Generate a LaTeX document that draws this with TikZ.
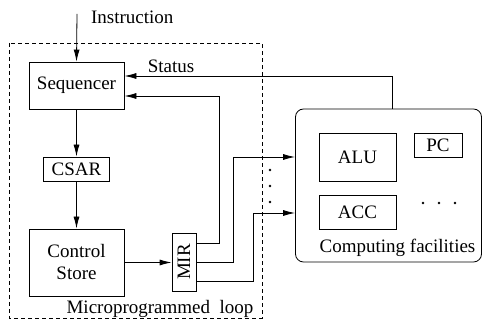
\documentclass[tikz,border=0pt]{standalone}
\usepackage{fontspec}
\setmainfont{Liberation Serif}
\usetikzlibrary{arrows.meta}

\begin{document}
\begin{tikzpicture}[x=0.5pt, y=-0.5pt,
  font=\fontsize{9.5}{11}\selectfont,
  box/.style={draw, inner sep=0pt, align=center},
  arr/.style={-{Latex[length=6pt,width=3pt]}}]
\useasboundingbox (0,0) rectangle (483,320);

% microprogrammed loop
\draw[dashed, dash pattern=on 2pt off 1.5pt] (9,43) rectangle (262,318);
\node (loop) at (160,309) {Microprogrammed\ \ loop};

\node[box, minimum width=47.5pt, minimum height=23.5pt] (seq) at (76.5,85.5) {Sequencer};
\node[box, minimum width=33pt, minimum height=12pt] (csar) at (76.5,169) {CSAR};
\node[box, minimum width=47.5pt, minimum height=33.5pt] (cs) at (76.5,262.5) {Control\\Store};
\node[box, minimum width=12pt, minimum height=29pt] (mir) at (184,262) {\rotatebox{90}{MIR}};

% computing facilities
\node[box, rounded corners=4pt, minimum width=93pt, minimum height=76.5pt] (comp) at (388.5,185.5) {};
\node[box, minimum width=38.5pt, minimum height=24pt] (alu) at (357.5,157) {ALU};
\node[box, minimum width=24pt, minimum height=12pt] (pc) at (438,145) {PC};
\node[box, minimum width=38.5pt, minimum height=17pt] (acc) at (357.5,212) {ACC};
\node (fac) at (397.5,248) {Computing facilities};
\foreach \x in {423,439,455} \fill (\x,203) circle (0.7pt);
\foreach \y in {170,186,202} \fill (270,\y) circle (0.7pt);

\coordinate (in) at (77,14);
\node[right] (instr) at (84,17) {Instruction};
\node (status) at (171,66) {Status};

\begin{scope}[arr]
  \draw (in) -- (seq.north);
  \draw (seq) -- (csar);
  \draw (csar) -- (cs);
  \draw (cs) -- (cs -| mir.west);
  \draw ([xshift=1.75pt]comp.north) |- ([yshift=4.75pt]seq.east);
  \draw ([yshift=9.5pt]mir.east) -- ++(23,0) |- ([yshift=-5.25pt]seq.east);
  \draw (mir.east) -- ++(37,0) |- ([yshift=14.25pt]comp.west);
  \draw ([yshift=-9.5pt]mir.east) -- ++(57,0) |- ([yshift=-13.75pt]comp.west);
\end{scope}

\end{tikzpicture}
\end{document}
